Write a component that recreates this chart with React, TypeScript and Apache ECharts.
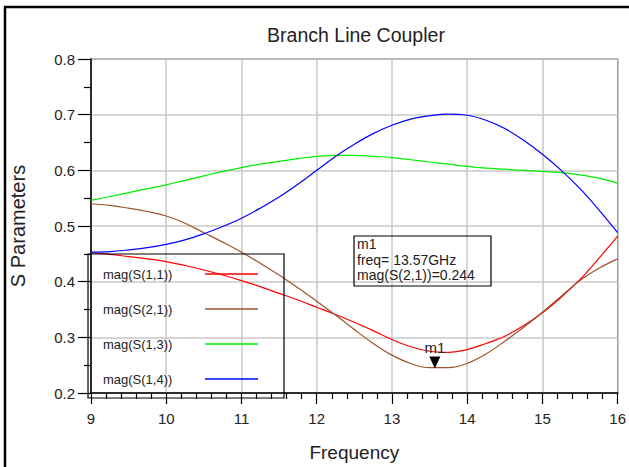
import React, { useEffect, useRef } from "react";
import * as echarts from "echarts";

const freqs = [9, 9.25, 9.5, 9.75, 10, 10.25, 10.5, 10.75, 11, 11.25, 11.5, 11.75, 12, 12.25, 12.5, 12.75, 13, 13.25, 13.5, 13.75, 14, 14.25, 14.5, 14.75, 15, 15.25, 15.5, 15.75, 16];

const s11 = [0.452, 0.449, 0.445, 0.441, 0.436, 0.429, 0.421, 0.412, 0.402, 0.391, 0.379, 0.367, 0.354, 0.341, 0.327, 0.312, 0.296, 0.283, 0.275, 0.273, 0.278, 0.289, 0.302, 0.321, 0.344, 0.372, 0.404, 0.442, 0.482];
const s21 = [0.54, 0.537, 0.532, 0.526, 0.518, 0.505, 0.488, 0.471, 0.453, 0.433, 0.412, 0.389, 0.365, 0.34, 0.314, 0.289, 0.268, 0.253, 0.2455, 0.2455, 0.253, 0.27, 0.293, 0.318, 0.345, 0.374, 0.402, 0.424, 0.441];
const s13 = [0.546, 0.553, 0.56, 0.567, 0.574, 0.582, 0.59, 0.598, 0.605, 0.611, 0.616, 0.621, 0.625, 0.627, 0.627, 0.625, 0.623, 0.619, 0.615, 0.611, 0.607, 0.604, 0.602, 0.6, 0.598, 0.596, 0.592, 0.586, 0.577];
const s14 = [0.453, 0.454, 0.457, 0.461, 0.467, 0.475, 0.486, 0.499, 0.514, 0.532, 0.552, 0.575, 0.6, 0.625, 0.647, 0.666, 0.681, 0.692, 0.698, 0.701, 0.699, 0.69, 0.675, 0.654, 0.629, 0.6, 0.567, 0.529, 0.488];

const seriesNames = ["mag(S(1,1))", "mag(S(2,1))", "mag(S(1,3))", "mag(S(1,4))"];
const seriesColors = ["#ff0000", "#a0522d", "#00ee00", "#0000ff"];
const seriesValues = [s11, s21, s13, s14];

const markerName = "m1";
const markerFreq = 13.57;
const markerValue = 0.244;

const FONT = "Liberation Sans, Arial, sans-serif";

export default function App() {
  const ref = useRef<HTMLDivElement>(null);
  useEffect(() => {
    if (!ref.current) return;
    const chart = echarts.init(ref.current, undefined, { renderer: "svg" });

    const series: any[] = seriesNames.map((name, i) => ({
      name,
      type: "line",
      data: freqs.map((f, k) => [f, seriesValues[i][k]]),
      showSymbol: false,
      smooth: 0.4,
      lineStyle: { color: seriesColors[i], width: 1.2 },
      itemStyle: { color: seriesColors[i] },
      z: 3,
    }));
    series[1].markPoint = {
      symbol: "triangle",
      symbolRotate: 180,
      symbolSize: [11, 12],
      symbolOffset: [0, -6],
      itemStyle: { color: "#000" },
      label: {
        show: true,
        position: "top",
        distance: 2,
        formatter: markerName,
        color: "#222",
        fontSize: 15,
        fontFamily: FONT,
      },
      data: [{ coord: [markerFreq, markerValue], name: markerName }],
    };

    const legendGraphics: any[] = [];
    seriesNames.forEach((name, i) => {
      const y = 274 + 35 * i;
      legendGraphics.push({
        type: "text",
        x: 103,
        y,
        style: { text: name, fill: "#222", font: `13px ${FONT}`, verticalAlign: "middle", textAlign: "left" },
        z: 10,
      });
      legendGraphics.push({
        type: "line",
        shape: { x1: 205, y1: y, x2: 258, y2: y },
        style: { stroke: seriesColors[i], lineWidth: 1.5 },
        z: 10,
      });
    });

    const markerLines = [
      markerName,
      `freq= ${markerFreq.toFixed(2)}GHz`,
      `${seriesNames[1]}=${markerValue.toFixed(3)}`,
    ];

    chart.setOption({
      animation: false,
      backgroundColor: "#fff",
      title: {
        text: "Branch Line Coupler",
        left: 351,
        top: 20,
        textAlign: "center",
        textStyle: { fontSize: 19.5, fontWeight: "normal", color: "#222", fontFamily: FONT },
      },
      grid: { left: 89, right: 9, top: 59, bottom: 71, show: true, borderColor: "#222", borderWidth: 1.2 },
      xAxis: {
        type: "value",
        min: 9,
        max: 16,
        interval: 1,
        name: "Frequency",
        nameLocation: "middle",
        nameGap: 50,
        nameTextStyle: { fontSize: 19, color: "#222", fontFamily: FONT },
        axisLine: { show: true, onZero: false, lineStyle: { color: "#000", width: 1.5 } },
        axisTick: { show: true, length: 11, lineStyle: { color: "#000", width: 1.2 } },
        minorTick: { show: true, splitNumber: 5, length: 6, lineStyle: { color: "#000", width: 1.2 } },
        splitLine: { show: true, lineStyle: { color: "#c8c8c8", width: 1.5 } },
        axisLabel: { fontSize: 15, color: "#222", margin: 18, fontFamily: FONT },
      },
      yAxis: {
        type: "value",
        min: 0.2,
        max: 0.8,
        interval: 0.1,
        name: "S Parameters",
        nameLocation: "middle",
        nameGap: 63,
        nameTextStyle: { fontSize: 20, color: "#222", fontFamily: FONT },
        axisLine: { show: true, onZero: false, lineStyle: { color: "#000", width: 1.5 } },
        axisTick: { show: true, length: 13, lineStyle: { color: "#000", width: 1.2 } },
        minorTick: { show: true, splitNumber: 2, length: 7, lineStyle: { color: "#000", width: 1.2 } },
        splitLine: { show: true, lineStyle: { color: "#c8c8c8", width: 1.5 } },
        axisLabel: { fontSize: 15, color: "#222", margin: 16, fontFamily: FONT, formatter: (v: number) => v.toFixed(1) },
      },
      graphic: [
        { type: "line", shape: { x1: 5, y1: 7, x2: 5, y2: 467 }, style: { stroke: "#000", lineWidth: 2.5 }, z: 20 },
        { type: "line", shape: { x1: 4, y1: 7, x2: 629, y2: 7 }, style: { stroke: "#000", lineWidth: 2.5 }, z: 20 },
        { type: "rect", shape: { x: 88, y: 254, width: 196, height: 144 }, style: { fill: "none", stroke: "#000", lineWidth: 1.2 }, z: 10 },
        ...legendGraphics,
        { type: "rect", shape: { x: 354, y: 236, width: 137, height: 50 }, style: { fill: "none", stroke: "#000", lineWidth: 1.2 }, z: 10 },
        ...markerLines.map((t, i) => ({
          type: "text",
          x: 357,
          y: 244 + 15.5 * i,
          style: { text: t, fill: "#222", font: `14px ${FONT}`, verticalAlign: "middle", textAlign: "left" },
          z: 10,
        })),
      ],
      series,
    });
    return () => chart.dispose();
  }, []);
  return <div ref={ref} style={{ position: "fixed", left: 0, top: 0, width: 629, height: 467, background: "#fff" }} />;
}
